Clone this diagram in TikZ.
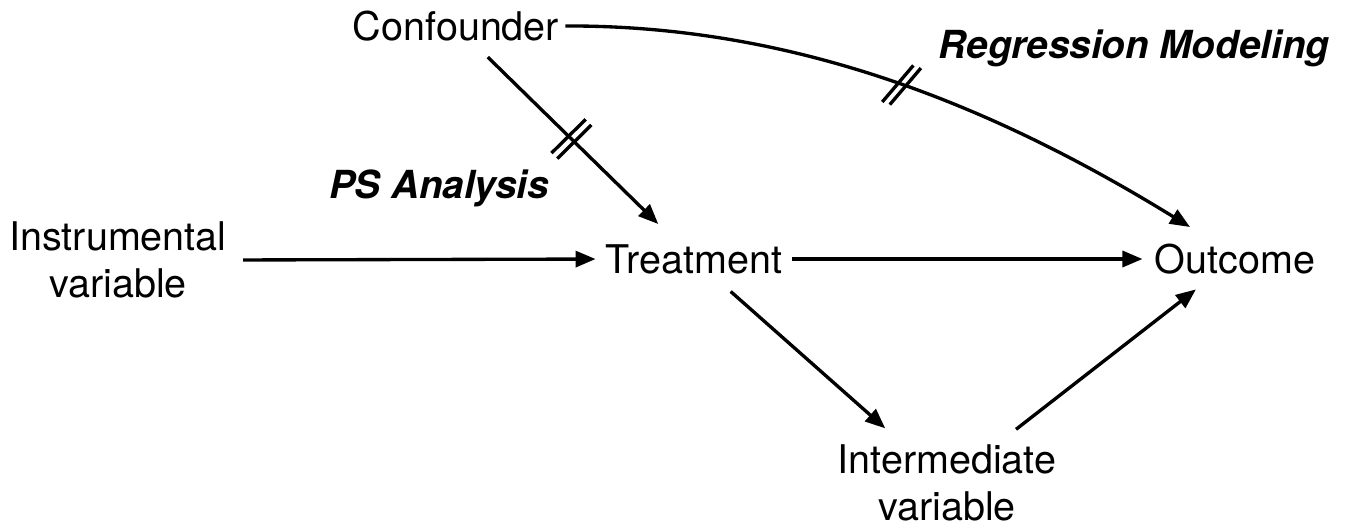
\documentclass[tikz,border=0pt]{standalone}
\usepackage{fontspec}
\setmainfont{TeX Gyre Heros}
\usetikzlibrary{arrows.meta,decorations.markings,calc}
\begin{document}
\begin{tikzpicture}[x=0.02cm,y=-0.02cm,
  lbl/.style={inner sep=0pt, align=center, font=\fontsize{22.5pt}{26.5pt}\selectfont},
  bil/.style={inner sep=0pt, font=\fontsize{22pt}{26pt}\selectfont\bfseries\itshape},
  arr/.style={line width=1.9pt, -{Triangle[length=0.4cm,width=0.32cm]}},
  tickline/.style={-, line width=1.9pt, shorten <=0pt, shorten >=0pt},
  cut/.style 2 args={decoration={markings, mark=at position #1 with {
      \draw[tickline] (-0.08cm,0) ++(#2:-0.48cm) -- ++(#2:0.96cm);
      \draw[tickline] (0.08cm,0) ++(#2:-0.48cm) -- ++(#2:0.96cm);}},
    postaction={decorate}}
]
\useasboundingbox (0,0) rectangle (1355,529);
\node[lbl] (conf) at (456,26) {Confounder};
\node[lbl] (inst) at (118,260) {Instrumental\\variable};
\node[lbl] (treat) at (694,259) {Treatment};
\node[lbl] (out) at (1235,259) {Outcome};
\node[lbl] (inter) at (947,483) {Intermediate\\variable};
\node[bil] (ps) at (439,188) {PS Analysis};
\node[bil] (reg) at (1134,48) {Regression Modeling};

\draw[arr, shorten <=0.32cm, shorten >=0.2cm] (inst.east) -- (treat.west);
\draw[arr, shorten <=0.2cm, shorten >=0.24cm] (treat.east) -- (out.west);
\draw[arr, cut={0.485}{89}, shorten <=0.89cm, shorten >=1.0cm] (conf.center) -- (treat.center);
\draw[arr, shorten <=0.98cm, shorten >=1.65cm] (treat.center) -- (inter.center);
\draw[arr, shorten <=1.75cm, shorten >=0.99cm] (inter.center) -- (out.center);
\draw[arr, cut={0.52}{69}, shorten <=0.12cm] (conf.east) .. controls (800,25) and (1000,110) .. ($(out.center)+(-45,-32)$);
\end{tikzpicture}
\end{document}
